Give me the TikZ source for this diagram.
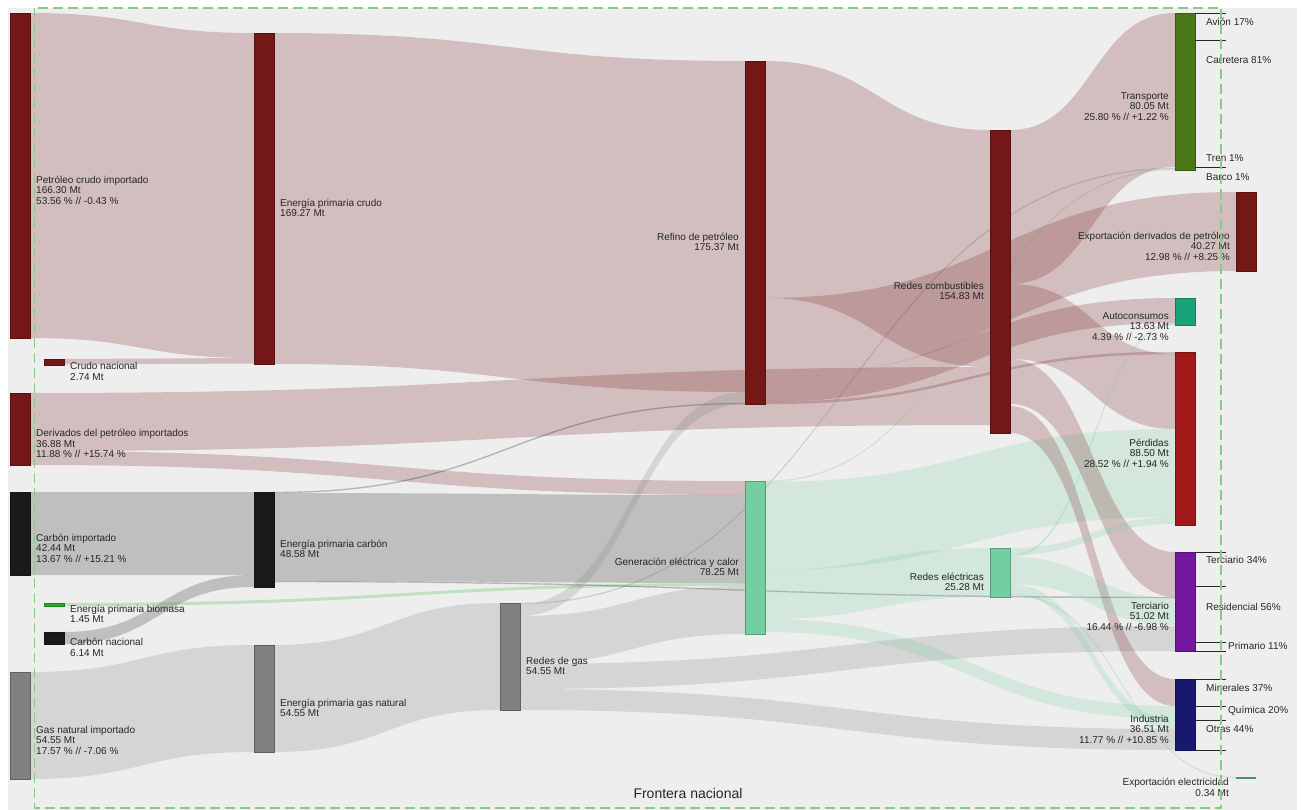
\documentclass[tikz,border=0pt]{standalone}
\usepackage{fontspec}
\setmainfont{Liberation Sans}
\usetikzlibrary{calc}
\pgfdeclarelayer{bg}
\pgfdeclarelayer{flows}
\pgfsetlayers{bg,flows,main}

\definecolor{crudo}{HTML}{731717}
\definecolor{carbon}{HTML}{1A1A1A}
\definecolor{gas}{HTML}{808080}
\definecolor{biomasa}{HTML}{22B022}
\definecolor{elec}{HTML}{74CFA0}
\definecolor{transp}{HTML}{4A7818}
\definecolor{autoc}{HTML}{1AA37A}
\definecolor{perdida}{HTML}{A31919}
\definecolor{tercol}{HTML}{7418A0}
\definecolor{indus}{HTML}{18186E}
\definecolor{expcol}{HTML}{4F8F6F}
\definecolor{fondo}{HTML}{EEEEEE}
\definecolor{frontera}{HTML}{86CC86}

\newcommand\lblfont{\fontsize{10}{10.5}\selectfont}
\newcommand\lh{\rule{0pt}{8.5pt}}
% band from one bar to the next: style, source, offset, target, offset, width
\newcommand\flow[6]{%
  \coordinate (fa) at ($(#2.north east)+(0,-#3pt)$);
  \coordinate (fb) at ($(#4.north west)+(0,-#5pt)$);
  \coordinate (fm) at ($(fa)!.5!(fb)$);
  \coordinate (fc) at ($(fa)+(0,-#6pt)$);
  \coordinate (fd) at ($(fb)+(0,-#6pt)$);
  \fill[#1] (fa) .. controls (fm|-fa) and (fm|-fb) .. (fb) -- (fd)
    .. controls (fm|-fd) and (fm|-fc) .. (fc) -- cycle;}

\tikzset{
  bar/.style={draw=#1!75!black, fill=#1, line width=0.6pt, minimum width=20pt,
    inner sep=0pt, outer sep=0pt, anchor=north west},
  band/.style={fill=#1, fill opacity=0.22},
  hair/.style={fill=#1, fill opacity=0.2, draw=#1, draw opacity=0.18, line width=0.4pt},
  lblL/.style={font=\lblfont, text=black!85, inner sep=0pt, anchor=north west,
    align=left, xshift=6pt, yshift=1pt},
  lblR/.style={font=\lblfont, text=black!85, inner sep=0pt, anchor=north east,
    align=right, xshift=-6pt, yshift=1pt},
  sub/.style={draw=black!85, line width=0.8pt},
  subl/.style={font=\lblfont, text=black!85, inner sep=0pt, anchor=west}
}

\begin{document}
\begin{tikzpicture}[x=1pt, y=-1pt]
\useasboundingbox (0,0) rectangle (1302,810);
\begin{pgfonlayer}{bg}
\fill[fondo] (8,8) rectangle (1297,810);
\end{pgfonlayer}

% bars
\node[bar=crudo, minimum height=325pt] (pci) at (10,13) {};
\node[bar=crudo, minimum height=6pt] (crn) at (44,359) {};
\node[bar=crudo, minimum height=72pt] (dpi) at (10,393) {};
\node[bar=carbon, minimum height=83pt] (cim) at (10,492) {};
\node[bar=biomasa, minimum height=3pt] (bio) at (44,603) {};
\node[bar=carbon, minimum height=12pt] (cna) at (44,632) {};
\node[bar=gas, minimum height=107pt] (gni) at (10,672) {};
\node[bar=crudo, minimum height=331pt] (epc) at (254,33) {};
\node[bar=carbon, minimum height=95pt] (epk) at (254,492) {};
\node[bar=gas, minimum height=107pt] (epg) at (254,645) {};
\node[bar=gas, minimum height=107pt] (rgas) at (500,603) {};
\node[bar=crudo, minimum height=343pt] (ref) at (745,61) {};
\node[bar=elec, minimum height=153pt] (gen) at (745,481) {};
\node[bar=crudo, minimum height=303pt] (rcomb) at (990,130) {};
\node[bar=elec, minimum height=49pt] (relec) at (990,548) {};
\node[bar=transp, minimum height=157pt] (trans) at (1175,13) {};
\node[bar=crudo, minimum height=79pt] (expd) at (1236,192) {};
\node[bar=autoc, minimum height=27pt] (auto) at (1175,298) {};
\node[bar=perdida, minimum height=173pt] (perd) at (1175,352) {};
\node[bar=tercol, minimum height=99pt] (ter) at (1175,552) {};
\node[bar=indus, minimum height=71pt] (ind) at (1175,679) {};
\node[fill=expcol, minimum width=20pt, minimum height=1.5pt, inner sep=0pt,
  anchor=north west] (expe) at (1236,777) {};

% flows
\begin{pgfonlayer}{flows}
\flow{band=crudo}{pci}{0}{epc}{0}{325}
\flow{band=crudo}{crn}{0}{epc}{325}{5.5}
\flow{band=crudo}{epc}{0}{ref}{0}{331}
\flow{band=crudo}{dpi}{0}{rcomb}{237}{58}
\flow{band=crudo}{dpi}{58}{gen}{0}{14}
\flow{band=carbon}{cim}{0}{epk}{0}{83}
\flow{band=carbon}{cna}{0}{epk}{83}{12}
\flow{band=gas}{gni}{0}{epg}{0}{107}
\flow{band=biomasa}{bio}{0}{gen}{102}{3}
\flow{hair=carbon}{epk}{0}{ref}{342}{1}
\flow{band=carbon}{epk}{1}{gen}{14}{88}
\flow{hair=carbon}{epk}{89}{ter}{45}{1}
\flow{band=gas}{epg}{0}{rgas}{0}{107}
\flow{hair=gas}{rgas}{0}{trans}{155}{1}
\flow{band=gas}{rgas}{1}{ref}{331}{12}
\flow{band=gas}{rgas}{13}{gen}{105}{48}
\flow{band=gas}{rgas}{61}{ter}{74}{25}
\flow{band=gas}{rgas}{86}{ind}{50}{21}
\flow{band=crudo}{ref}{0}{rcomb}{0}{237}
\flow{band=crudo}{ref}{237}{expd}{0}{79}
\flow{band=crudo}{ref}{316}{auto}{0}{25}
\flow{hair=crudo}{ref}{341}{perd}{0}{2}
\flow{hair=elec}{gen}{0}{trans}{156}{1}
\flow{band=elec}{gen}{1}{perd}{77}{88}
\flow{band=elec}{gen}{89}{relec}{0}{49}
\flow{band=elec}{gen}{138}{ind}{27}{13}
\flow{band=crudo}{rcomb}{0}{trans}{0}{154}
\flow{band=crudo}{rcomb}{154}{perd}{2}{75}
\flow{band=crudo}{rcomb}{229}{ter}{0}{45}
\flow{band=crudo}{rcomb}{276}{ind}{0}{27}
\flow{band=elec}{relec}{0}{perd}{165}{7}
\flow{hair=elec}{relec}{7}{auto}{25}{2}
\flow{band=elec}{relec}{9}{ter}{46}{27}
\flow{band=elec}{relec}{36}{ind}{40}{10}
\flow{hair=elec}{relec}{46}{expe}{0}{1}
\end{pgfonlayer}

% labels
\node[lblL] (pci-l) at (pci.east) {\lh Petróleo crudo importado\\166.30 Mt\\53.56 \% // -0.43 \%};
\node[lblL] (crn-l) at (crn.east) {\lh Crudo nacional\\2.74 Mt};
\node[lblL] (dpi-l) at (dpi.east) {\lh Derivados del petróleo importados\\36.88 Mt\\11.88 \% // +15.74 \%};
\node[lblL] (cim-l) at (cim.east) {\lh Carbón importado\\42.44 Mt\\13.67 \% // +15.21 \%};
\node[lblL] (bio-l) at (bio.east) {\lh Energía primaria biomasa\\1.45 Mt};
\node[lblL] (cna-l) at (cna.east) {\lh Carbón nacional\\6.14 Mt};
\node[lblL] (gni-l) at (gni.east) {\lh Gas natural importado\\54.55 Mt\\17.57 \% // -7.06 \%};
\node[lblL] (epc-l) at (epc.east) {\lh Energía primaria crudo\\169.27 Mt};
\node[lblL] (epk-l) at (epk.east) {\lh Energía primaria carbón\\48.58 Mt};
\node[lblL] (epg-l) at (epg.east) {\lh Energía primaria gas natural\\54.55 Mt};
\node[lblL] (rgas-l) at (rgas.east) {\lh Redes de gas\\54.55 Mt};
\node[lblR] (ref-l) at (ref.west) {\lh Refino de petróleo\\175.37 Mt};
\node[lblR] (gen-l) at (gen.west) {\lh Generación eléctrica y calor\\78.25 Mt};
\node[lblR] (rcomb-l) at (rcomb.west) {\lh Redes combustibles\\154.83 Mt};
\node[lblR] (relec-l) at (relec.west) {\lh Redes eléctricas\\25.28 Mt};
\node[lblR] (trans-l) at (trans.west) {\lh Transporte\\80.05 Mt\\25.80 \% // +1.22 \%};
\node[lblR] (expd-l) at (expd.west) {\lh Exportación derivados de petróleo\\40.27 Mt\\12.98 \% // +8.25 \%};
\node[lblR] (auto-l) at (auto.west) {\lh Autoconsumos\\13.63 Mt\\4.39 \% // -2.73 \%};
\node[lblR] (perd-l) at (perd.west) {\lh Pérdidas\\88.50 Mt\\28.52 \% // +1.94 \%};
\node[lblR] (ter-l) at (ter.west) {\lh Terciario\\51.02 Mt\\16.44 \% // -6.98 \%};
\node[lblR] (ind-l) at (ind.west) {\lh Industria\\36.51 Mt\\11.77 \% // +10.85 \%};
\node[lblR, xshift=-1pt] (expe-l) at (expe.west) {\lh Exportación electricidad\\0.34 Mt};

% shares by sector
\draw[sub] (trans.north east) -- ++(31,0);
\draw[sub] ($(trans.north east)+(0,27)$) -- ++(31,0);
\draw[sub] ($(trans.north east)+(0,154)$) -- ++(31,0);
\node[subl] (avion) at (1206,22) {Avión 17\%};
\node[subl] (carretera) at (1206,60) {Carretera 81\%};
\node[subl] (tren) at (1206,158) {Tren 1\%};
\node[subl] (barco) at (1206,177) {Barco 1\%};
\draw[sub] (ter.north east) -- ++(31,0);
\draw[sub] ($(ter.north east)+(0,34)$) -- ++(31,0);
\draw[sub] ($(ter.north east)+(0,90)$) -- ++(31,0);
\draw[sub] (ter.south east) -- ++(31,0);
\node[subl] (ter34) at (1206,560) {Terciario 34\%};
\node[subl] (res56) at (1206,607) {Residencial 56\%};
\node[subl] (pri11) at (1228,646) {Primario 11\%};
\draw[sub] (ind.north east) -- ++(31,0);
\draw[sub] ($(ind.north east)+(0,27)$) -- ++(31,0);
\draw[sub] ($(ind.north east)+(0,41)$) -- ++(31,0);
\draw[sub] (ind.south east) -- ++(31,0);
\node[subl] (min37) at (1206,688) {Minerales 37\%};
\node[subl] (qui20) at (1228,711) {Química 20\%};
\node[subl] (otr44) at (1206,729) {Otras 44\%};

% national border
\draw[frontera, line width=1.3pt, dash pattern=on 10pt off 5pt] (34.5,8) rectangle (1221,808);
\node[font=\fontsize{14}{16}\selectfont, text=black!85] (frontera) at (688,793) {Frontera nacional};
\end{tikzpicture}
\end{document}
